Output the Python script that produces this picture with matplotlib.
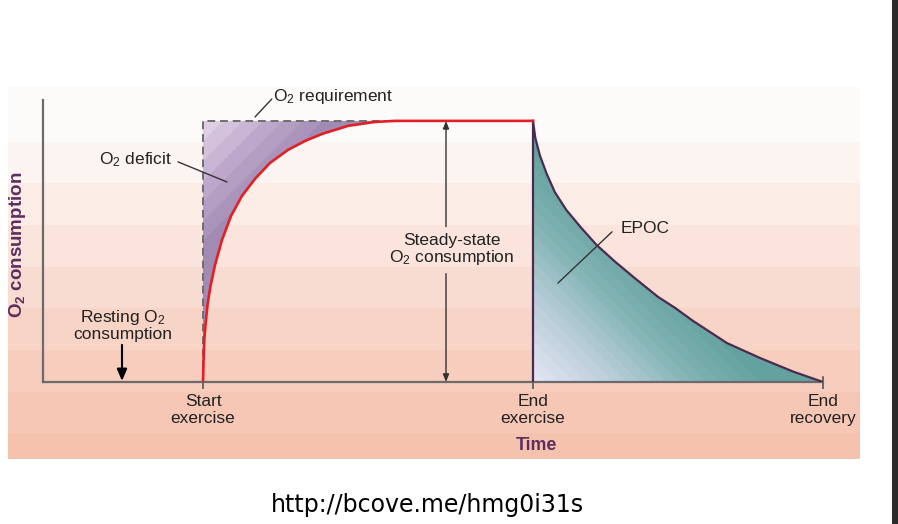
import matplotlib.pyplot as plt
import matplotlib.colors as mcolors
import numpy as np

plt.rcParams['font.family'] = ['Liberation Sans', 'DejaVu Sans']
plt.rcParams['mathtext.fontset'] = 'custom'
plt.rcParams['mathtext.rm'] = 'Liberation Sans'
plt.rcParams['mathtext.it'] = 'Liberation Sans:italic'
plt.rcParams['mathtext.bf'] = 'Liberation Sans:bold'

# key times (arbitrary units) and labels
t_start = 4.0
t_end_ex = 12.25
t_end_rec = 19.5
tick_labels = ["Start\nexercise", "End\nexercise", "End\nrecovery"]

# O2 uptake rising at start of exercise (1 = steady state)
rise_t = [4.0, 4.0125, 4.0325, 4.0625, 4.1125, 4.1875, 4.30, 4.475, 4.70, 4.975,
          5.30, 5.675, 6.125, 6.55, 6.975, 7.625, 8.30, 8.80]
rise_y = [0.0, 0.077, 0.161, 0.218, 0.295, 0.368, 0.448, 0.544, 0.636, 0.713,
          0.778, 0.839, 0.889, 0.923, 0.950, 0.981, 0.996, 1.0]

# O2 uptake falling during recovery (EPOC)
decay_t = [12.25, 12.3075, 12.4175, 12.5825, 12.7925, 13.0825, 13.4575, 13.8375,
           14.2925, 14.7925, 15.375, 15.80, 16.25, 17.10, 17.925, 18.75, 19.5]
decay_y = [1.0, 0.935, 0.870, 0.801, 0.728, 0.659, 0.590, 0.525,
           0.462, 0.398, 0.326, 0.284, 0.234, 0.149, 0.092, 0.040, 0.0]

band_colors = ['#fcfbfa', '#fcf4f0', '#fbece6', '#fae4db', '#f9dcd1', '#f8d4c7',
               '#f7cdbe', '#f6c7b5', '#f5c2ae']
band_edges = [87, 142, 183, 225, 267, 308, 350, 392, 433, 459]

W, H = 898, 524
fig = plt.figure(figsize=(W / 100, H / 100), dpi=100)
fig.patch.set_facecolor('white')

# banded pink panel behind the chart
bg = fig.add_axes([8 / W, 1 - 459 / H, 852 / W, 372 / H])
bg.set_xlim(0, 1)
bg.set_ylim(459, 87)
for i, c in enumerate(band_colors):
    bg.axhspan(band_edges[i], band_edges[i + 1], color=c, lw=0)
bg.axis('off')

# dark strip on the right edge
fig.patches.append(plt.Rectangle((892 / W, 0), 6 / W, 1, transform=fig.transFigure,
                                 color='#2b2b2b', lw=0))

ax = fig.add_axes([43 / W, 1 - 382 / H, 780 / W, 282 / H])
ax.patch.set_alpha(0)
ax.set_xlim(0, t_end_rec)
ax.set_ylim(0, 1.08)
for s in ['top', 'right']:
    ax.spines[s].set_visible(False)
for s in ['left', 'bottom']:
    ax.spines[s].set_color('#6b6b6b')
    ax.spines[s].set_linewidth(1.6)
ax.set_yticks([])
ax.set_xticks([t_start, t_end_ex, t_end_rec])
ax.set_xticklabels(tick_labels, fontsize=12.5, color='#222222', linespacing=1.22)
ax.tick_params(axis='x', direction='out', length=5, width=1.2, color='#555555', pad=3.5)
ax.plot([t_end_rec, t_end_rec], [0, 0.02], color='#555555', lw=1.2, clip_on=False)

# O2 deficit: purple striped gradient
deficit = ax.fill_between(rise_t, rise_y, 1.0, color='none', lw=0)
gx, gy = np.meshgrid(np.linspace(t_start, 8.8, 200), np.linspace(0, 1, 200))
g = (gx - t_start) * 40 + (1 - gy) * 261
cmap_def = mcolors.LinearSegmentedColormap.from_list('def', ['#dfcfe5', '#bea9cc', '#a28bb3'])
cmap_def = mcolors.ListedColormap(cmap_def(np.linspace(0, 1, 7)))
im = ax.imshow(np.clip(g / 140, 0, 1), extent=(t_start, 8.8, 0, 1), origin='lower',
               cmap=cmap_def, aspect='auto', zorder=1)
im.set_clip_path(deficit.get_paths()[0], transform=ax.transData)

# EPOC: lavender to teal gradient
epoc = ax.fill_between(decay_t, decay_y, 0, color='none', lw=0)
ex, ey = np.meshgrid(np.linspace(t_end_ex, t_end_rec, 300), np.linspace(0, 1, 300))
e = (ex - t_end_ex) * 40 + ey * 261
cmap_epoc = mcolors.LinearSegmentedColormap.from_list(
    'epoc', [(0, '#e2e4f2'), (0.35, '#b7cdd8'), (0.7, '#80b3b2'), (1, '#64a2a0')])
cmap_epoc = mcolors.ListedColormap(cmap_epoc(np.linspace(0, 1, 18)))
im2 = ax.imshow(np.clip(e / 240, 0, 1), extent=(t_end_ex, t_end_rec, 0, 1), origin='lower',
                cmap=cmap_epoc, aspect='auto', zorder=1)
im2.set_clip_path(epoc.get_paths()[0], transform=ax.transData)
ax.plot(decay_t, decay_y, color='#4b2a4f', lw=1.6, zorder=4, solid_joinstyle='round')
ax.plot([t_end_ex, t_end_ex], [0, 1.0], color='#4b2a4f', lw=1.6, zorder=4)

# O2 requirement (dashed) and actual uptake (red)
ax.plot([t_start, t_start, 8.8], [0, 1, 1], color='#6e6e6e', lw=1.4,
        dashes=(4, 2.5), zorder=3)
ax.plot(rise_t + [t_end_ex], rise_y + [1.0], color='#e31e24', lw=1.9, zorder=5,
        solid_joinstyle='round')

txt = dict(fontsize=12.5, color='#222222')
line = dict(arrowstyle='-', color='#333333', lw=1.0, shrinkA=0, shrinkB=0)

ax.annotate('', xy=(5.3, 1.015), xytext=(5.72, 1.084), arrowprops=line, annotation_clip=False)
ax.text(5.76, 1.092, 'O$_2$ requirement', ha='left', va='center', clip_on=False, **txt)

ax.annotate('', xy=(4.6, 0.766), xytext=(3.375, 0.843), arrowprops=line)
ax.text(3.22, 0.851, 'O$_2$ deficit', ha='right', va='center', **txt)

ax.annotate('', xy=(12.875, 0.379), xytext=(14.225, 0.575), arrowprops=line)
ax.text(14.43, 0.586, 'EPOC', ha='left', va='center', **txt)

ax.text(2.0, 0.218, 'Resting O$_2$\nconsumption', ha='center', va='center',
        linespacing=1.05, **txt)
ax.annotate('', xy=(1.975, 0.004), xytext=(1.975, 0.142),
            arrowprops=dict(arrowstyle='-|>,head_length=0.7,head_width=0.3', color='black',
                            lw=1.5, shrinkA=0, shrinkB=0))

t_ss = 10.075
ax.text(10.225, 0.506, 'Steady-state\nO$_2$ consumption', ha='center', va='center',
        linespacing=1.05, **txt)
ss = dict(arrowstyle='-|>,head_length=0.45,head_width=0.18', color='#333333', lw=1.0,
          shrinkA=0, shrinkB=0)
ax.annotate('', xy=(t_ss, 1.0), xytext=(t_ss, 0.595), arrowprops=ss)
ax.annotate('', xy=(t_ss, 0.0), xytext=(t_ss, 0.415), arrowprops=ss)

fig.text(18 / W, 1 - 245 / H, r'$\mathbf{O_2}$ consumption', rotation=90, ha='center',
         va='center', fontsize=13.5, fontweight='bold', color='#5c2d5e')
fig.text(536 / W, 1 - 445 / H, 'Time', ha='center', va='center', fontsize=12.8,
         fontweight='bold', color='#5c2d5e')
fig.text(427 / W, 1 - 505 / H, 'http://bcove.me/hmg0i31s', ha='center', va='center',
         fontsize=17, color='black', family='DejaVu Sans')

fig.savefig('out.png', dpi=100)
